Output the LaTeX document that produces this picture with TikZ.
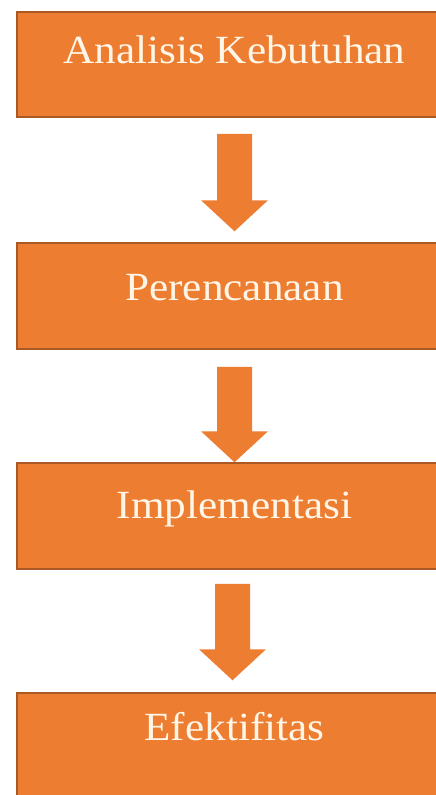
\documentclass[tikz,border=0pt]{standalone}
\usepackage{fontspec}
\usepackage{graphicx}
\setmainfont{Liberation Serif}
\usetikzlibrary{calc}
\definecolor{boxfill}{RGB}{237,125,49}
\definecolor{boxline}{RGB}{170,88,36}
\definecolor{boxtext}{RGB}{255,246,232}
\tikzset{
  box/.style={rectangle, draw=boxline, line width=1.5pt, fill=boxfill,
    minimum width=435pt, minimum height=105pt, inner sep=2pt,
    text=boxtext, font=\fontsize{40}{48}\selectfont, text height=30pt},
  barrow/.style={fill=boxfill, draw=none}
}
\newcommand{\wide}[1]{\scalebox{1.08}[1]{#1}}
% block arrow from #1 (top centre) to #2 (tip)
\newcommand{\blockarrow}[2]{%
  \path[barrow] let \p1=(#1), \p2=(#2) in
    (\x1-17.5pt,\y1) -- (\x1+17.5pt,\y1) -- (\x1+17.5pt,\y2+31pt)
    -- (\x1+33.5pt,\y2+31pt) -- (\x2,\y2) -- (\x1-33.5pt,\y2+31pt)
    -- (\x1-17.5pt,\y2+31pt) -- cycle;}
\begin{document}
\begin{tikzpicture}
\useasboundingbox (0,0) rectangle (436pt,-795pt);
\fill[white] (0,0) rectangle (436pt,-795pt);
\node[box, text depth=33pt] (b1) at (234.5pt,-64.5pt) {\wide{Analisis Kebutuhan}};
\node[box, text depth=22pt, minimum height=106pt] (b2) at (234.5pt,-296pt) {\wide{Perencanaan}};
\node[box, text depth=26pt, minimum height=106pt] (b3) at (234.5pt,-516pt) {\wide{Implementasi}};
\node[box, text depth=42pt, minimum height=106pt] (b4) at (234.5pt,-746pt) {\wide{Efektifitas}};
\coordinate (a1s) at ([yshift=-16pt]b1.south);
\coordinate (a1e) at ([yshift=11pt]b2.north);
\coordinate (a2s) at ([yshift=-17pt]b2.south);
\coordinate (a2e) at ([yshift=0pt]b3.north);
\coordinate (a3s) at ([xshift=-2pt,yshift=-14pt]b3.south);
\coordinate (a3e) at ([xshift=-2pt,yshift=12pt]b4.north);
\blockarrow{a1s}{a1e}
\blockarrow{a2s}{a2e}
\blockarrow{a3s}{a3e}
\end{tikzpicture}
\end{document}
